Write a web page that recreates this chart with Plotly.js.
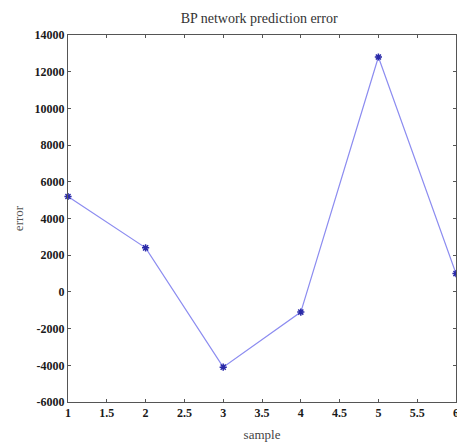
<!DOCTYPE html>
<html>
<head>
<meta charset="utf-8">
<script src="https://cdn.plot.ly/plotly-3.0.1.min.js"></script>
<style>html,body{margin:0;padding:0;background:#fff;}#chart{width:457px;height:443px;}</style>
</head>
<body>
<div id="chart"></div>
<script>
const samples = [1, 2, 3, 4, 5, 6];
const errors = [5200, 2400, -4100, -1100, 12800, 1000];
const xTicks = [1, 1.5, 2, 2.5, 3, 3.5, 4, 4.5, 5, 5.5, 6];
const xTickLabels = ['1', '1.5', '2', '2.5', '3', '3.5', '4', '4.5', '5', '5.5', '6'];
const yTicks = [-6000, -4000, -2000, 0, 2000, 4000, 6000, 8000, 10000, 12000, 14000];
const yTickLabels = ['-6000', '-4000', '-2000', '0', '2000', '4000', '6000', '8000', '10000', '12000', '14000'];

const font = 'Liberation Serif, Times New Roman, serif';

const trace = {
  x: samples,
  y: errors,
  type: 'scatter',
  mode: 'lines+markers',
  line: {color: '#8c8cf0', width: 1.2},
  marker: {symbol: 'asterisk-open', size: 6, color: '#2a2aa8', line: {color: '#2a2aa8', width: 1.5}},
  cliponaxis: false,
  hoverinfo: 'skip'
};

const axisCommon = {
  showgrid: false,
  zeroline: false,
  showline: true,
  linecolor: '#555',
  linewidth: 1,
  mirror: 'ticks',
  ticks: 'inside',
  ticklen: 3,
  tickcolor: '#555',
  ticklabeloverflow: 'allow',
  tickfont: {family: font, size: 12, color: '#1a1a1a', weight: 'bold'}
};

const layout = {
  width: 457,
  height: 443,
  margin: {l: 68, r: 1, t: 35, b: 41},
  paper_bgcolor: '#fff',
  plot_bgcolor: '#fff',
  showlegend: false,
  title: {text: 'BP network prediction error', font: {family: font, size: 14, color: '#333'}, x: 0.567, xanchor: 'center', y: 0.96, yanchor: 'middle'},
  xaxis: Object.assign({}, axisCommon, {
    range: [1, 6],
    tickvals: xTicks,
    ticktext: xTickLabels,
    title: {text: 'sample', font: {family: font, size: 13, color: '#444'}, standoff: 10}
  }),
  yaxis: Object.assign({}, axisCommon, {
    range: [-6000, 14000],
    tickvals: yTicks,
    ticktext: yTickLabels,
    title: {text: 'error', font: {family: font, size: 13, color: '#555'}, standoff: 8}
  })
};

Plotly.newPlot('chart', [trace], layout, {displayModeBar: false, staticPlot: true});
</script>
</body>
</html>
